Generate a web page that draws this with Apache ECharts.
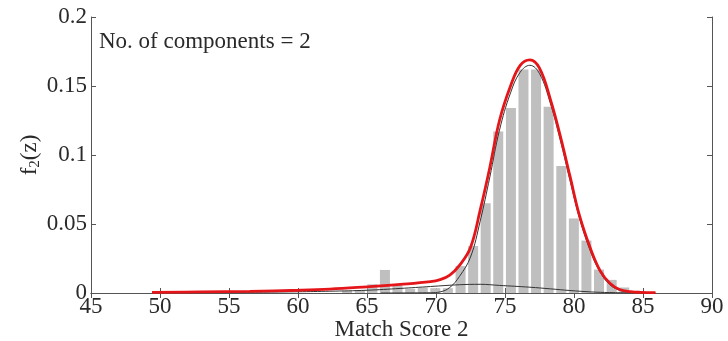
<!DOCTYPE html>
<html><head><meta charset="utf-8">
<script src="https://cdn.jsdelivr.net/npm/echarts@6/dist/echarts.min.js"></script>
<style>html,body{margin:0;padding:0;background:#fff}#c{width:728px;height:341px}</style>
</head><body><div id="c"></div>
<script>
// Histogram bin centres (Match Score 2) and heights f2(z)
var binCenters = [63.56, 64.48, 65.39, 66.30, 67.21, 68.13, 69.04, 69.95, 70.86, 71.78, 72.69, 73.60, 74.51, 75.43, 76.34, 77.25, 78.16, 79.08, 79.99, 80.90, 81.81, 82.73, 83.64, 84.55, 85.47];
var binHeights = [0.0015, 0.002, 0.0063, 0.0167, 0.0056, 0.003, 0.004, 0.0035, 0.0035, 0.0195, 0.034, 0.065, 0.117, 0.134, 0.162, 0.162, 0.135, 0.092, 0.054, 0.038, 0.017, 0.0095, 0.004, 0.0015, 0.0008];

// Total mixture density (red)
var mixX = [49.42, 52.9, 56.5, 60.1, 62.3, 65.0, 67.4, 69.6, 70.3, 71.0, 71.7, 72.5, 73.2, 73.9, 74.6, 75.4, 76.1, 76.8, 77.5, 78.3, 79.0, 79.7, 80.4, 81.2, 81.9, 82.6, 83.3, 84.1, 84.8, 85.9];
var mixY = [0.0005, 0.0008, 0.0012, 0.002, 0.0028, 0.0045, 0.0062, 0.0082, 0.0097, 0.013, 0.020, 0.033, 0.060, 0.091, 0.125, 0.150, 0.165, 0.169, 0.163, 0.140, 0.114, 0.085, 0.056, 0.032, 0.016, 0.007, 0.0025, 0.001, 0.0005, 0.0003];

// Component 1 (main peak, thin black)
var comp1X = [66.0, 69.6, 70.3, 71.0, 71.7, 72.5, 73.2, 73.9, 74.6, 75.4, 76.1, 76.8, 77.5, 78.3, 79.0, 79.7, 80.4, 81.2, 81.9, 82.6, 83.3, 84.1, 84.8, 85.9];
var comp1Y = [0, 0.0002, 0.0008, 0.004, 0.012, 0.026, 0.052, 0.084, 0.118, 0.145, 0.160, 0.165, 0.159, 0.137, 0.111, 0.082, 0.054, 0.030, 0.015, 0.006, 0.002, 0.0006, 0.0002, 0.0001];

// Component 2 (broad, thin black)
var comp2X = [49.42, 55, 60, 62.3, 65, 67.4, 69.6, 71.7, 73.2, 74.6, 76.8, 78.3, 79.7, 81.2, 82.6, 84.1, 85.9];
var comp2Y = [0.0002, 0.0004, 0.0009, 0.0013, 0.002, 0.0033, 0.0047, 0.006, 0.0063, 0.0055, 0.0042, 0.003, 0.0018, 0.0008, 0.0003, 0.0001, 0];

var xTicks = {min: 45, max: 90, interval: 5};
var yTicks = {min: 0, max: 0.2, interval: 0.05};
var titleText = 'No. of components = 2';
var xName = 'Match Score 2';

function pairs(xs, ys) { return xs.map(function (x, i) { return [x, ys[i]]; }); }

var FONT = '"Liberation Serif", "DejaVu Serif", serif';
var TXT = '#2a2a2a';
var AX = '#555555';
var FS = 23;

var chart = echarts.init(document.getElementById('c'), null, {renderer: 'canvas'});
chart.setOption({
  animation: false,
  backgroundColor: '#ffffff',
  title: {
    text: titleText, left: 99, top: 30, padding: 0,
    textStyle: {fontFamily: FONT, fontSize: 23, fontWeight: 'normal', color: TXT}
  },
  grid: {left: 91, right: 16, top: 17, bottom: 48, containLabel: false, outerBoundsMode: 'none'},
  xAxis: [{
    type: 'value', min: xTicks.min, max: xTicks.max, interval: xTicks.interval,
    name: xName, nameLocation: 'middle', nameGap: 25, nameMoveOverlap: false,
    nameTextStyle: {fontFamily: FONT, fontSize: FS, color: TXT},
    axisLine: {show: true, lineStyle: {color: AX, width: 1}},
    axisTick: {show: true, inside: true, length: 5, lineStyle: {color: AX}},
    axisLabel: {fontFamily: FONT, fontSize: FS, color: TXT, margin: 2},
    splitLine: {show: false}
  }, {
    type: 'value', position: 'top', min: xTicks.min, max: xTicks.max, interval: xTicks.interval,
    axisLine: {show: true, lineStyle: {color: AX, width: 1}},
    axisTick: {show: true, inside: true, length: 5, lineStyle: {color: AX}},
    axisLabel: {show: false}, splitLine: {show: false}
  }],
  yAxis: [{
    type: 'value', min: yTicks.min, max: yTicks.max, interval: yTicks.interval,
    name: '{f|f}{s|2}{f|(z)}', nameLocation: 'middle', nameGap: 48, nameRotate: 90, nameMoveOverlap: false,
    nameTextStyle: {
      fontFamily: FONT, color: TXT,
      rich: {
        f: {fontFamily: FONT, fontSize: FS, color: TXT, lineHeight: 26},
        s: {fontFamily: FONT, fontSize: 15, color: TXT, lineHeight: 26, verticalAlign: 'bottom', padding: [10, 0, 0, 0]}
      }
    },
    axisLine: {show: true, lineStyle: {color: AX, width: 1}},
    axisTick: {show: true, inside: true, length: 5, lineStyle: {color: AX}},
    axisLabel: {fontFamily: FONT, fontSize: FS, color: TXT, margin: 4},
    splitLine: {show: false}
  }, {
    type: 'value', position: 'right', min: yTicks.min, max: yTicks.max, interval: yTicks.interval,
    axisLine: {show: true, lineStyle: {color: AX, width: 1}},
    axisTick: {show: true, inside: true, length: 5, lineStyle: {color: AX}},
    axisLabel: {show: false}, splitLine: {show: false}
  }],
  series: [{
    type: 'bar', xAxisIndex: 0, yAxisIndex: 0,
    data: pairs(binCenters, binHeights),
    barWidth: 10, itemStyle: {color: '#bfbfbf'}, z: 1
  }, {
    type: 'line', data: pairs(comp2X, comp2Y), symbol: 'none', smooth: 0.4,
    lineStyle: {color: '#333333', width: 1}, z: 3
  }, {
    type: 'line', data: pairs(comp1X, comp1Y), symbol: 'none', smooth: 0.4,
    lineStyle: {color: '#333333', width: 1}, z: 3
  }, {
    type: 'line', data: pairs(mixX, mixY), symbol: 'none', smooth: 0.4,
    lineStyle: {color: '#e5161a', width: 2.8}, z: 4
  }]
});
</script></body></html>
